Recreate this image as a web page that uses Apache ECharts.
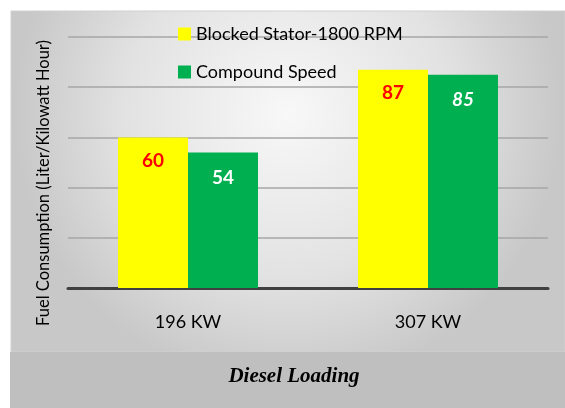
<!DOCTYPE html>
<html>
<head>
<meta charset="utf-8">
<script src="https://cdn.jsdelivr.net/npm/echarts@6/dist/echarts.min.js"></script>
<style>
  html, body { margin: 0; padding: 0; background: #ffffff; }
  #chart { width: 565px; height: 408px; }
</style>
</head>
<body>
<div id="chart"></div>
<script>
// 分类和数据
const categories = ['196 KW', '307 KW']
const blockedStator = [60, 87]
const compoundSpeed = [54, 85]
const seriesNames = ['Blocked Stator-1800 RPM', 'Compound Speed']
const yTitle = 'Fuel Consumption (Liter/Kilowatt Hour)'
const xTitle = 'Diesel Loading'

const myChart = echarts.init(document.getElementById('chart'))

const option = {
  backgroundColor: '#ffffff',
  animation: false,
  graphic: [
    // 背景渐变面板
    {
      type: 'rect',
      z: -10,
      shape: { x: 11, y: 11, width: 554, height: 341 },
      style: {
        fill: new echarts.graphic.RadialGradient(0.5, 0.3, 0.8, [
          { offset: 0, color: '#f8f8f8' },
          { offset: 0.6, color: '#e2e2e2' },
          { offset: 1, color: '#c8c8c8' }
        ]),
        stroke: '#d0d0d0',
        lineWidth: 1
      }
    },
    // 底部灰色条
    {
      type: 'rect',
      z: -9,
      shape: { x: 10, y: 352, width: 555, height: 56 },
      style: { fill: '#bfbfbf' }
    },
    {
      type: 'text',
      z: 10,
      x: 294,
      y: 377,
      style: {
        text: xTitle,
        fontFamily: 'Liberation Serif',
        fontSize: 21,
        fontWeight: 'bold',
        fontStyle: 'italic',
        fill: '#000000',
        align: 'center',
        verticalAlign: 'middle'
      }
    },
    {
      type: 'text',
      z: 10,
      x: 44,
      y: 183,
      rotation: Math.PI / 2,
      style: {
        text: yTitle,
        fontFamily: 'Lato',
        fontSize: 16.5,
        fill: '#000000',
        align: 'center',
        verticalAlign: 'middle'
      }
    }
  ],
  grid: {
    left: 68,
    right: 17,
    top: 37,
    bottom: 120
  },
  legend: {
    data: seriesNames,
    orient: 'vertical',
    left: 173,
    top: 20,
    itemWidth: 13,
    itemHeight: 13,
    itemGap: 20,
    icon: 'rect',
    textStyle: {
      fontFamily: 'Lato',
      fontSize: 18,
      color: '#000000'
    }
  },
  xAxis: {
    type: 'category',
    data: categories,
    axisTick: { show: false },
    axisLine: {
      lineStyle: { color: '#404040', width: 3 }
    },
    axisLabel: {
      margin: 25,
      fontFamily: 'Lato',
      fontSize: 18,
      color: '#000000'
    }
  },
  yAxis: {
    type: 'value',
    min: 0,
    max: 100,
    interval: 20,
    axisLabel: { show: false },
    axisTick: { show: false },
    axisLine: { show: false },
    splitLine: {
      lineStyle: { color: '#a6a6a6', width: 1.5 }
    }
  },
  series: [
    {
      name: seriesNames[0],
      type: 'bar',
      data: blockedStator,
      barWidth: 70,
      barGap: '0%',
      itemStyle: { color: '#ffff00' },
      label: {
        show: true,
        position: 'insideTop',
        distance: 14,
        fontFamily: 'Lato',
        fontSize: 19,
        fontWeight: 'bold',
        color: '#ff0000'
      }
    },
    {
      name: seriesNames[1],
      type: 'bar',
      data: compoundSpeed,
      barWidth: 70,
      barGap: '0%',
      itemStyle: { color: '#00b050' },
      label: {
        show: true,
        position: 'insideTop',
        distance: 16,
        fontFamily: 'Lato',
        fontSize: 19,
        fontWeight: 'bold',
        color: '#ffffff',
        // 第二组标签为斜体
        formatter: (p) => p.dataIndex === 1 ? '{i|' + p.value + '}' : String(p.value),
        rich: {
          i: {
            fontFamily: 'Lato',
            fontSize: 19,
            fontWeight: 'bold',
            fontStyle: 'italic',
            color: '#ffffff'
          }
        }
      }
    }
  ]
}

myChart.setOption(option, true)
</script>
</body>
</html>
